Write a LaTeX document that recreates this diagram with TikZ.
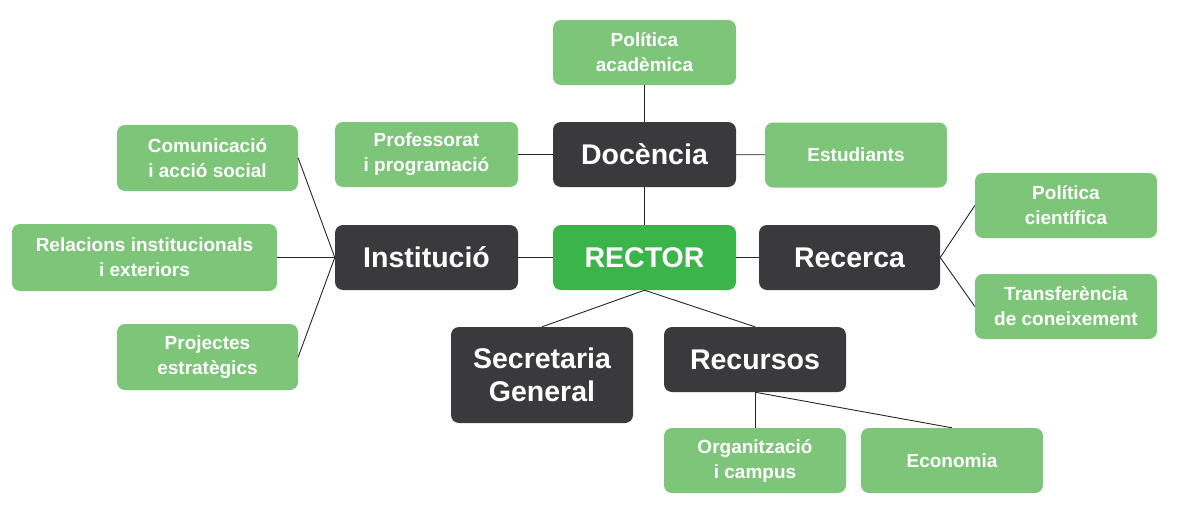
\documentclass[tikz,border=0pt]{standalone}
\usepackage{fontspec}
\setmainfont{Liberation Sans}
\definecolor{lgreen}{RGB}{125,197,120}
\definecolor{rgreen}{RGB}{59,181,74}
\definecolor{dgray}{RGB}{58,58,60}
\begin{document}
\begin{tikzpicture}[x=1pt,y=-1pt,
  box/.style={rounded corners=8pt, text=white, align=center, inner sep=0pt, minimum width=183pt, minimum height=65pt},
  gbox/.style={box, fill=lgreen, font=\fontsize{19}{25}\selectfont\bfseries},
  dbox/.style={box, fill=dgray, font=\fontsize{28.5}{33}\selectfont\bfseries},
  rbox/.style={box, fill=rgreen, font=\fontsize{28.5}{33}\selectfont\bfseries},
  link/.style={draw=black!85, line width=0.9pt}]
\useasboundingbox (0,0) rectangle (1182,511);
\node[gbox] (pa) at (644.5,52.5) {Política\\acadèmica};
\node[dbox] (doc) at (644.5,154.5) {Docència};
\node[gbox] (prof) at (426.5,154.5) {Professorat\\i programació};
\node[gbox, minimum width=182pt] (est) at (856,155) {Estudiants};
\node[gbox, minimum width=181pt, minimum height=66pt] (com) at (207.5,158) {Comunicació\\i acció social};
\node[gbox, minimum width=265pt, minimum height=67pt] (rel) at (144.5,257.5) {Relacions institucionals\\i exteriors};
\node[dbox] (inst) at (426.5,257.5) {Institució};
\node[rbox] (rec) at (644.5,257.5) {RECTOR};
\node[dbox, minimum width=181pt] (rcc) at (849.5,257.5) {Recerca};
\node[gbox, minimum width=182pt] (pc) at (1066,205.5) {Política\\científica};
\node[gbox, minimum width=182pt] (tc) at (1066,306.5) {Transferència\\de coneixement};
\node[gbox, minimum width=181pt, minimum height=66pt] (proj) at (207.5,357) {Projectes\\estratègics};
\node[dbox, minimum width=182pt, minimum height=96pt] (sg) at (542,375) {Secretaria\\General};
\node[dbox, minimum width=182pt] (recu) at (755,359.5) {Recursos};
\node[gbox, minimum width=182pt] (org) at (755,460.5) {Organització\\i campus};
\node[gbox, minimum width=182pt] (eco) at (952,460.5) {Economia};
\path[link] (pa) -- (doc);
\path[link] (prof) -- (doc);
\path[link] (doc) -- (est);
\path[link] (doc) -- (rec);
\path[link] (inst) -- (rec);
\path[link] (rec) -- (rcc);
\path[link] (inst.west) -- (com.east);
\path[link] (inst.west) -- (rel.east);
\path[link] (inst.west) -- (proj.east);
\path[link] (rcc.east) -- (pc.west);
\path[link] (rcc.east) -- (tc.west);
\path[link] (rec.south) -- (sg.north);
\path[link] (rec.south) -- (recu.north);
\path[link] (recu.south) -- (org.north);
\path[link] (recu.south) -- (eco.north);
\end{tikzpicture}
\end{document}
